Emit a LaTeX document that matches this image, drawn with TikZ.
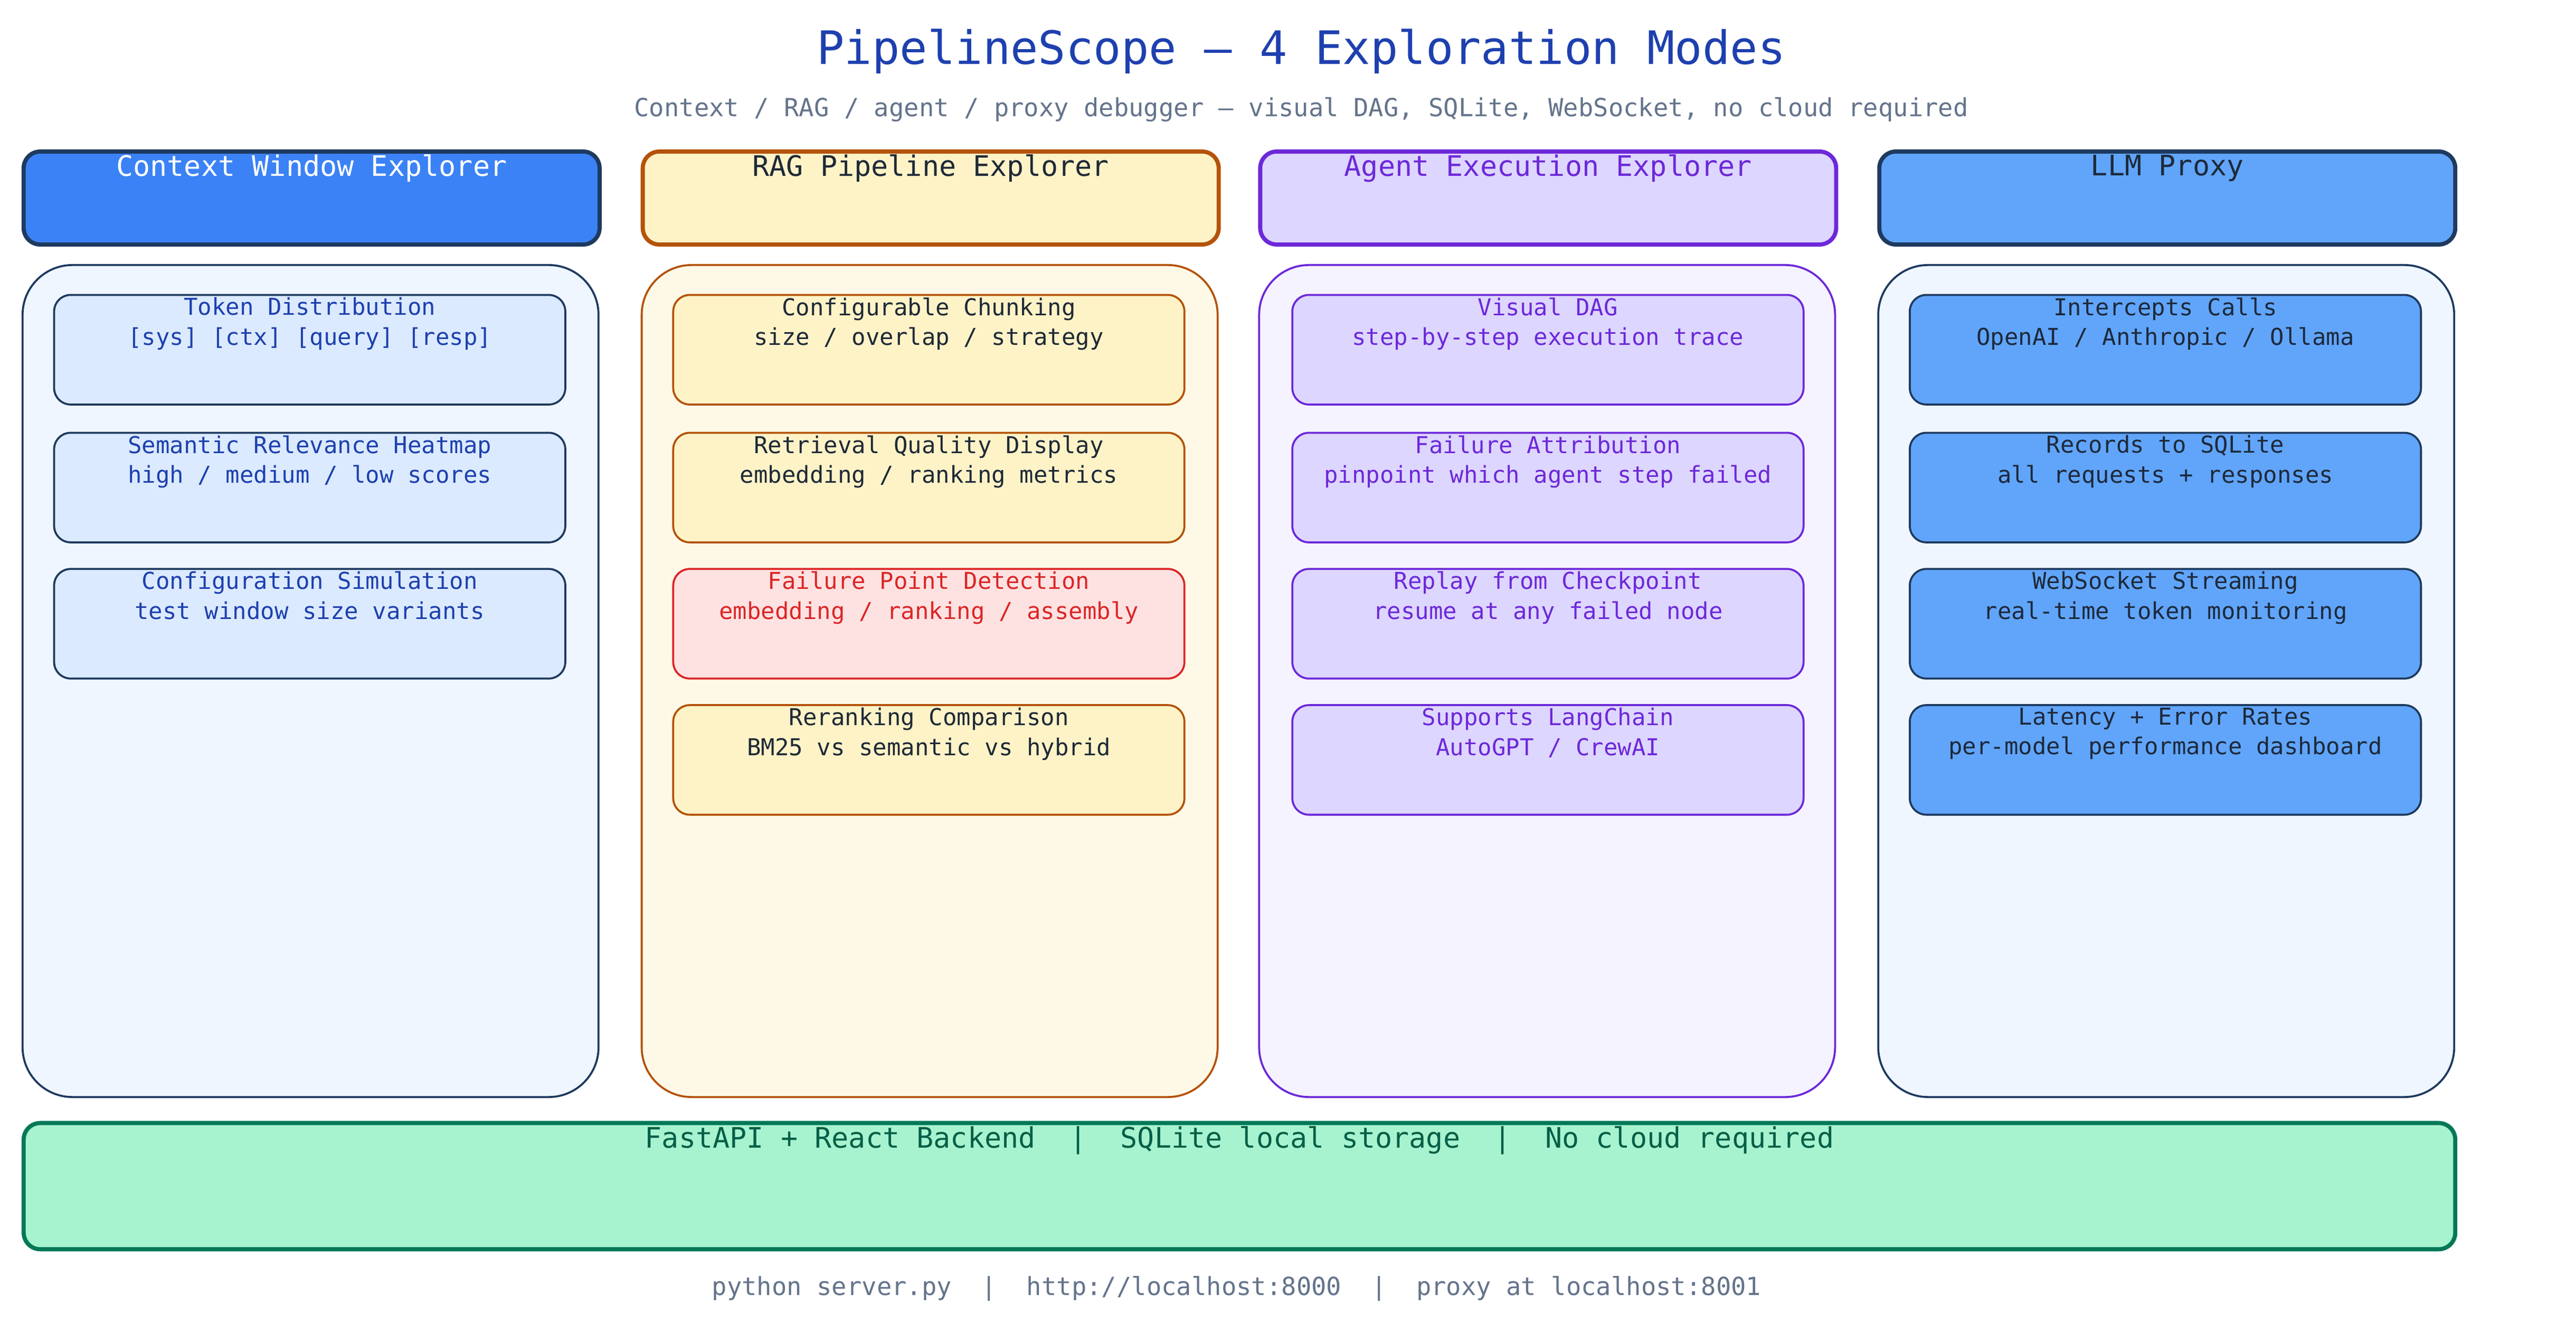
\documentclass[tikz,border=0pt]{standalone}
\usepackage{fontspec}
\setmainfont{DejaVu Sans Mono}
\begin{document}
\begin{tikzpicture}[x=1pt,y=-1pt,
 hdr/.style={draw,line width=2.5pt,rounded corners=10pt,minimum width=347pt,minimum height=56pt,anchor=north west},
 pan/.style={draw,line width=1.2pt,rounded corners=30pt,minimum width=347pt,minimum height=501pt,anchor=north west},
 box/.style={draw,line width=1.2pt,rounded corners=10pt,minimum width=308pt,minimum height=66pt,anchor=north west},
 btxt/.style={anchor=north,align=center,font=\fontsize{14}{18}\selectfont,inner sep=0pt},
 htxt/.style={anchor=north,font=\fontsize{17}{20}\selectfont,inner sep=0pt}]
\definecolor{navy}{HTML}{1E3A5F}\definecolor{blueA}{HTML}{3B82F6}\definecolor{blueB}{HTML}{60A5FA}
\definecolor{blueL}{HTML}{EFF6FF}\definecolor{blueM}{HTML}{DBEAFE}\definecolor{blueT}{HTML}{1E40AF}
\definecolor{amb}{HTML}{B45309}\definecolor{ambF}{HTML}{FEF3C7}\definecolor{ambL}{HTML}{FEF9E7}\definecolor{dark}{HTML}{1F2937}
\definecolor{red}{HTML}{DC2626}\definecolor{redF}{HTML}{FEE2E2}
\definecolor{pur}{HTML}{6D28D9}\definecolor{purF}{HTML}{DDD6FE}\definecolor{purL}{HTML}{F5F3FF}
\definecolor{slate}{HTML}{1E293B}\definecolor{grey}{HTML}{64748B}
\definecolor{grn}{HTML}{047857}\definecolor{grnF}{HTML}{A7F3D0}\definecolor{grnT}{HTML}{065F46}
\useasboundingbox (0,0) rectangle (1552,796.4);
\node[font=\fontsize{27.7}{30}\selectfont,text=blueT] (title) at (784,31) {PipelineScope — 4 Exploration Modes};
\node[font=\fontsize{15}{18}\selectfont,text=grey] (sub) at (784,66) {Context / RAG / agent / proxy debugger — visual DAG, SQLite, WebSocket, no cloud required};
% columns
\newcommand{\col}[9]{%
 \node[hdr,draw=#2,fill=#3] (h#1) at (#9,90) {};
 \node[htxt,text=#4] (ht#1) at ([yshift=-3pt]h#1.north) {#5};
 \node[pan,draw=#6,fill=#7] (p#1) at (#9,159) {};}
\col{1}{navy}{blueA}{white}{Context Window Explorer}{navy}{blueL}{}{13}
\col{2}{amb}{ambF}{dark}{RAG Pipeline Explorer}{amb}{ambL}{}{386}
\col{3}{pur}{purF}{pur}{Agent Execution Explorer}{pur}{purL}{}{758}
\col{4}{navy}{blueB}{slate}{LLM Proxy}{navy}{blueL}{}{1131}
\newcommand{\ib}[7]{%
 \node[box,draw=#3,fill=#4] (#1) at (#2) {};
 \node[btxt,text=#5] (#1t) at ([yshift=-2pt]#1.north) {#6\\\relax #7};}
\ib{a1}{32,177}{navy}{blueM}{blueT}{Token Distribution}{[sys] [ctx] [query] [resp]}
\ib{a2}{32,260}{navy}{blueM}{blueT}{Semantic Relevance Heatmap}{high / medium / low scores}
\ib{a3}{32,342}{navy}{blueM}{blueT}{Configuration Simulation}{test window size variants}
\ib{b1}{405,177}{amb}{ambF}{dark}{Configurable Chunking}{size / overlap / strategy}
\ib{b2}{405,260}{amb}{ambF}{dark}{Retrieval Quality Display}{embedding / ranking metrics}
\ib{b3}{405,342}{red}{redF}{red}{Failure Point Detection}{embedding / ranking / assembly}
\ib{b4}{405,424}{amb}{ambF}{dark}{Reranking Comparison}{BM25 vs semantic vs hybrid}
\ib{c1}{778,177}{pur}{purF}{pur}{Visual DAG}{step-by-step execution trace}
\ib{c2}{778,260}{pur}{purF}{pur}{Failure Attribution}{pinpoint which agent step failed}
\ib{c3}{778,342}{pur}{purF}{pur}{Replay from Checkpoint}{resume at any failed node}
\ib{c4}{778,424}{pur}{purF}{pur}{Supports LangChain}{AutoGPT / CrewAI}
\ib{d1}{1150,177}{navy}{blueB}{slate}{Intercepts Calls}{OpenAI / Anthropic / Ollama}
\ib{d2}{1150,260}{navy}{blueB}{slate}{Records to SQLite}{all requests + responses}
\ib{d3}{1150,342}{navy}{blueB}{slate}{WebSocket Streaming}{real-time token monitoring}
\ib{d4}{1150,424}{navy}{blueB}{slate}{Latency + Error Rates}{per-model performance dashboard}
\node[draw=grn,fill=grnF,line width=2.5pt,rounded corners=10pt,minimum width=1465pt,minimum height=76pt,anchor=north west] (bar) at (13,675) {};
\node[htxt,text=grnT] (bart) at ([yshift=-3pt]bar.north) {FastAPI + React Backend\ \ |\ \ SQLite local storage\ \ |\ \ No cloud required};
\node[font=\fontsize{15}{18}\selectfont,text=grey] (foot) at (745,776) {python server.py\ \ |\ \ http://localhost:8000\ \ |\ \ proxy at localhost:8001};
\end{tikzpicture}
\end{document}
